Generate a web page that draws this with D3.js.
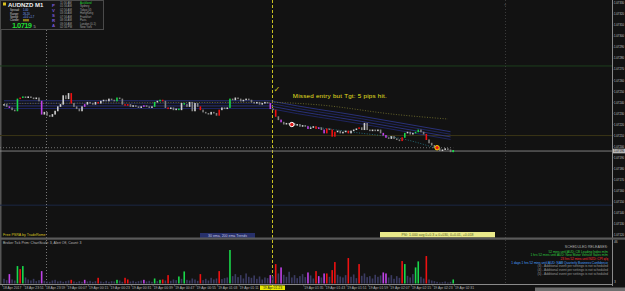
<!doctype html>
<html lang="en">
<head>
<meta charset="utf-8">
<script src="https://cdn.jsdelivr.net/npm/d3@7"></script>
<style>
body { margin: 0; background: #121212; }
svg { display: block; font-family: "Liberation Sans", Arial, sans-serif; }
</style>
</head>
<body>
<script>
// ---- data ----
var closes = [
  1.07238,1.07236,1.07235,1.07233,1.07232,1.07243,1.07244,1.07245,1.07244,1.07245,
  1.07244,1.07243,1.07244,1.07241,1.07229,1.07231,1.07228,1.07227,1.07229,1.07232,
  1.07236,1.07238,1.07246,1.07243,1.07248,1.07239,1.07236,1.07234,1.07232,1.07236,
  1.07238,1.07240,1.07239,1.07238,1.07240,1.07239,1.07241,1.07242,1.07241,1.07243,
  1.07242,1.07241,1.07244,1.07243,1.07238,1.07237,1.07238,1.07236,1.07237,1.07236,
  1.07235,1.07236,1.07237,1.07236,1.07235,1.07236,1.07240,1.07241,1.07242,1.07241,
  1.07235,1.07234,1.07235,1.07233,1.07234,1.07233,1.07239,1.07238,1.07236,1.07240,
  1.07232,1.07239,1.07236,1.07233,1.07231,1.07230,1.07229,1.07231,1.07230,1.07228,
  1.07233,1.07235,1.07234,1.07235,1.07243,1.07242,1.07244,1.07243,1.07241,1.07242,
  1.07243,1.07242,1.07240,1.07239,1.07240,1.07238,1.07239,1.07240,1.07239,1.07234,
  1.07233,1.07227,1.07224,1.07222,1.07220,1.07221,1.07220,1.07221,1.07219,1.07220,
  1.07218,1.07219,1.07218,1.07216,1.07217,1.07218,1.07216,1.07217,1.07215,1.07212,
  1.07216,1.07215,1.07209,1.07213,1.07214,1.07212,1.07213,1.07214,1.07212,1.07214,
  1.07215,1.07216,1.07217,1.07215,1.07221,1.07215,1.07214,1.07215,1.07214,1.07215,
  1.07212,1.07210,1.07208,1.07207,1.07209,1.07207,1.07206,1.07205,1.07208,1.07212,
  1.07213,1.07211,1.07212,1.07213,1.07215,1.07213,1.07211,1.07206,1.07203,1.07201,
  1.07199,1.07198,1.07196,1.07197,1.07198,1.07197,1.07195,1.07196
];
var volumes = [
  14,10,28,12,9,52,43,52,18,12,
  9,14,7,10,37,8,6,5,9,11,
  6,8,5,7,9,11,6,4,7,5,
  11,6,8,5,7,17,6,4,8,5,
  7,6,11,9,5,17,12,6,8,5,
  7,9,11,6,8,5,15,7,11,12,
  9,25,8,12,10,21,14,36,11,9,
  15,12,8,28,10,14,9,17,12,15,
  37,13,16,18,100,22,28,19,25,15,
  30,20,17,24,14,21,12,18,16,25,
  22,58,30,48,26,20,35,18,25,16,
  22,28,19,33,24,15,37,22,18,30,
  30,20,40,64,26,21,18,25,76,20,
  27,16,58,23,30,19,22,15,26,20,
  24,33,30,18,25,14,22,17,67,58,
  23,18,28,48,66,20,15,82,12,9,
  7,5,3,4,6,3,5,12
];
var greenBars  = [5,7,42,56,58,65,67,84,149,153,154,167];
var redBars    = [6,25,35,45,46,59,61,73,80,101,116,120,122,123,128,132,148,157];
var purpleBars = [2,14,30,52,99,103,113,117,119,141,142];

var priceTicks = [1.07330,1.07320,1.07310,1.07300,1.07290,1.07280,1.07270,1.07260,1.07250,1.07240,
                  1.07230,1.07220,1.07210,1.07200,1.07190,1.07180,1.07170,1.07160,1.07150,1.07140,1.07130,1.07120];
var timeLabels = ["18 Apr 2017","18 Apr 23:51","18 Apr 23:59","19 Apr 00:07","19 Apr 00:15","19 Apr 00:23",
                  "19 Apr 00:31","19 Apr 00:39","19 Apr 00:47","19 Apr 00:55","19 Apr 01:03","19 Apr 01:11",
                  "19 Apr 01:19","19 Apr 01:27","19 Apr 01:35","19 Apr 01:43","19 Apr 01:51","19 Apr 01:59",
                  "19 Apr 02:07","19 Apr 02:15","19 Apr 02:23","19 Apr 02:31"];
var signalBar = 100, signalLabel = "19 Apr 01:23";
var currentPrice = 1.07196;
var levelPrices = [1.07273, 1.07210, 1.07147];

// indicator lines (bar index, price)
var bandIdx = [0, 50, 99, 101, 133, 166];
var bandPrice = [1.07238, 1.07238, 1.07238, 1.07237, 1.07224, 1.07210];
var bandOffsets = [-0.000035, -0.000012, 0.000012, 0.000035];
var oliveIdx = [0, 99, 116, 146, 165];
var olivePrice = [1.07239, 1.07240, 1.07238, 1.07229, 1.07225];
var tealIdx = [108, 130, 150, 160];
var tealPrice = [1.07220, 1.07213, 1.07206, 1.07199];
var markIdx = [107, 161];
var markPrice = [1.07220, 1.07199];

var sessionTimes = ["11:56 AM","01:56 AM","02:56 AM","03:56 AM","07:56 AM","08:56 AM","09:56 AM","02:56 PM"];
var sessionNames = ["Auckland","Sydney","Tokyo (4)","HongKong","Frankfurt","Paris","London (0-1)","New York"];
var releases = [
  ["52 mins until AUD: CB Leading Index m/m", "#2ecc40"],
  ["1 hrs 52 mins until AUD: New Motor Vehicle Sales m/m", "#2ecc40"],
  ["23 hrs 52 mins until NZD: CPI q/q", "#ff3030"],
  ["1 days 1 hrs 52 mins until AUD: NAB Quarterly Business Confidence", "#4aa0ff"],
  ["(3) - Additional event per settings is not scheduled", "#9a9a9a"],
  ["(4) - Additional event per settings is not scheduled", "#9a9a9a"],
  ["(5) - Additional event per settings is not scheduled", "#9a9a9a"]
];

// ---- layout ----
var W = 625, H = 291, plotR = 612;
var svg = d3.select("body").append("svg").attr("width", W).attr("height", H);
svg.append("rect").attr("width", W).attr("height", H).attr("fill", "#121212");

var x = d3.scaleLinear().domain([0, 168]).range([4, 4 + 168 * 2.69]);
var y = d3.scaleLinear().domain([1.07120, 1.07330]).range([235, 3]);
var yv = d3.scaleLinear().domain([0, 100]).range([283.5, 250]);

function colorOf(i) {
  if (greenBars.indexOf(i) >= 0) return "#19d84a";
  if (redBars.indexOf(i) >= 0) return "#ee1111";
  if (purpleBars.indexOf(i) >= 0) return "#c042e8";
  return null;
}

// left border
svg.append("rect").attr("x", 0).attr("y", 0).attr("width", 1.5).attr("height", 284).attr("fill", "#555");

// horizontal levels
var levelColors = ["#1d3f1d", "#3a3516", "#1b2744"];
svg.selectAll(".lvl").data(levelPrices).enter().append("line")
  .attr("x1", 0).attr("x2", plotR)
  .attr("y1", function(d) { return y(d); }).attr("y2", function(d) { return y(d); })
  .attr("stroke", function(d, i) { return levelColors[i]; }).attr("stroke-width", 1);

// vertical dotted lines
svg.append("line").attr("x1", 46.5).attr("x2", 46.5).attr("y1", 30).attr("y2", 284)
  .attr("stroke", "#777").attr("stroke-dasharray", "1,2");
svg.append("line").attr("x1", 505.5).attr("x2", 505.5).attr("y1", 0).attr("y2", 284)
  .attr("stroke", "#3a3a3a").attr("stroke-dasharray", "1,2");
svg.append("line").attr("x1", x(signalBar) - 0.5).attr("x2", x(signalBar) - 0.5).attr("y1", 0).attr("y2", 286)
  .attr("stroke", "#c8c020").attr("stroke-dasharray", "3,2");

// price dotted + current price line
svg.append("line").attr("x1", 0).attr("x2", x(167))
  .attr("y1", y(1.07199)).attr("y2", y(1.07199))
  .attr("stroke", "#8a8a8a").attr("stroke-dasharray", "1,2").attr("stroke-width", 0.8);
svg.append("line").attr("x1", 0).attr("x2", plotR)
  .attr("y1", y(currentPrice)).attr("y2", y(currentPrice))
  .attr("stroke", "#9a9a9a").attr("stroke-width", 0.8);

// MA band
var bandLine = d3.line().curve(d3.curveMonotoneX)
  .x(function(d) { return x(d[0]); }).y(function(d) { return y(d[1]); });
bandOffsets.forEach(function(off, k) {
  var pts = bandIdx.map(function(b, j) { return [b, bandPrice[j] + off]; });
  svg.append("path").attr("d", bandLine(pts)).attr("fill", "none")
    .attr("stroke", k % 2 ? "#2e3892" : "#222a72").attr("stroke-width", 0.8);
});
svg.append("path").attr("d", bandLine(oliveIdx.map(function(b, j) { return [b, olivePrice[j]]; })))
  .attr("fill", "none").attr("stroke", "#7c7a30").attr("stroke-width", 0.8).attr("stroke-dasharray", "1,1.6");
svg.append("path").attr("d", bandLine(tealIdx.map(function(b, j) { return [b, tealPrice[j]]; })))
  .attr("fill", "none").attr("stroke", "#267e8c").attr("stroke-width", 0.8).attr("stroke-dasharray", "1,1.6");

// candles
var candles = closes.map(function(c, i) { return { i: i, o: i ? closes[i - 1] : c, c: c }; });
svg.selectAll(".cdl").data(candles).enter().append("rect")
  .attr("x", function(d) { return x(d.i) - 0.8; })
  .attr("width", 1.6)
  .attr("y", function(d) { return y(Math.max(d.o, d.c)) - 0.5; })
  .attr("height", function(d) { return Math.max(1, Math.abs(y(d.o) - y(d.c))) + 0.5; })
  .attr("fill", function(d) {
    return colorOf(d.i) || (d.c >= d.o ? "#d0d0d0" : "#808080");
  });

// signal markers
markIdx.forEach(function(b, j) {
  svg.append("circle").attr("cx", x(b)).attr("cy", y(markPrice[j])).attr("r", 2.2)
    .attr("fill", "#e01818").attr("stroke", j ? "#ffd800" : "#ffffff").attr("stroke-width", 1);
});
svg.append("rect").attr("x", x(167) - 0.8).attr("y", y(currentPrice) - 1).attr("width", 1.6).attr("height", 2)
  .attr("fill", "#19d84a");

// annotation
svg.append("text").attr("x", x(signalBar) + 0.5).attr("y", y(1.07249))
  .attr("fill", "#d8d020").attr("font-size", 8).attr("font-family", "DejaVu Sans").text("\u2713");
svg.append("text").attr("x", x(107) + 1).attr("y", y(1.07244))
  .attr("fill", "#e8e020").attr("font-size", 6.2).attr("textLength", 94)
  .text("Missed entry but Tgt: 5 pips hit.");

// info panel
var info = svg.append("g");
info.append("rect").attr("x", 0.5).attr("y", 0.5).attr("width", 103).attr("height", 29)
  .attr("fill", "#161616").attr("stroke", "#4a4a4a");
info.append("rect").attr("x", 3).attr("y", 2.5).attr("width", 3).attr("height", 3).attr("fill", "#d8c020");
info.append("text").attr("x", 8).attr("y", 7.3).attr("fill", "#f0f0f0").attr("font-size", 6)
  .attr("font-weight", "bold").text("AUDNZD  M1");
var infoRows = [["Spread", "1.00"], ["Range", "26.20"], ["Speed", "+0.0 +1.7"], ["Candle", "\u25AE\u25AE\u25AE"]];
infoRows.forEach(function(r, k) {
  info.append("text").attr("x", 10).attr("y", 11.3 + k * 3.2).attr("fill", "#cfcfcf").attr("font-size", 2.7).text(r[0] + ":");
  info.append("text").attr("x", 23).attr("y", 11.3 + k * 3.2).attr("fill", k == 3 ? "#d8c020" : "#7fa8ff").attr("font-size", 2.7).text(r[1]);
});
info.append("text").attr("x", 12).attr("y", 27.5).attr("fill", "#22dd33").attr("font-size", 7.5)
  .attr("font-weight", "bold").attr("textLength", 20).text("1.0719");
info.append("text").attr("x", 33.5).attr("y", 27.5).attr("fill", "#bbb").attr("font-size", 4).text("5");
["P", "V", "S", "R", "A"].forEach(function(ch, k) {
  info.append("text").attr("x", 52).attr("y", 7 + k * 5).attr("fill", "#7c5ad8").attr("font-size", 4.3)
    .attr("font-weight", "bold").text(ch);
});
sessionTimes.forEach(function(t, k) {
  info.append("text").attr("x", 60).attr("y", 4 + k * 3.45).attr("fill", "#a0a0a0").attr("font-size", 2.8).text(t);
  info.append("text").attr("x", 80).attr("y", 4 + k * 3.45).attr("fill", k == 0 ? "#22dd33" : "#a0a0a0")
    .attr("font-size", 2.8).text(sessionNames[k]);
});
svg.append("text").attr("x", 504).attr("y", 6).attr("fill", "#666").attr("font-size", 4).text("\u00d7");

// bottom labels of main window
svg.append("text").attr("x", 3).attr("y", 235.5).attr("fill", "#d8c020").attr("font-size", 3.6).text("Free PSRA by TradeRome");
svg.append("rect").attr("x", 200).attr("y", 233).attr("width", 55).attr("height", 5).attr("fill", "#27306a");
svg.append("text").attr("x", 227.5).attr("y", 237).attr("text-anchor", "middle").attr("fill", "#c8c8e0")
  .attr("font-size", 3.5).text("30 ema, 200 ema Trends");
svg.append("rect").attr("x", 380).attr("y", 232).attr("width", 115).attr("height", 5.5).attr("fill", "#e9e98a");
svg.append("text").attr("x", 437.5).attr("y", 236.3).attr("text-anchor", "middle").attr("fill", "#556020")
  .attr("font-size", 3.5).text("PSI: 1.000 avg 0+0.3 = 0+030, 0+0.01, +0.018");

// right price axis
svg.append("line").attr("x1", plotR + 0.5).attr("x2", plotR + 0.5).attr("y1", 0).attr("y2", 286).attr("stroke", "#8a8a8a");
svg.selectAll(".ptick").data(priceTicks).enter().append("text")
  .attr("x", plotR + 2).attr("y", function(d) { return y(d) + 1.2; })
  .attr("fill", "#c8c8c8").attr("font-size", 3.3).attr("textLength", 10).attr("lengthAdjust", "spacingAndGlyphs")
  .text(function(d) { return d.toFixed(5); });
svg.selectAll(".ptm").data(priceTicks).enter().append("line")
  .attr("x1", plotR).attr("x2", plotR + 1.5).attr("y1", function(d) { return y(d); }).attr("y2", function(d) { return y(d); })
  .attr("stroke", "#8a8a8a").attr("stroke-width", 0.5);
svg.append("rect").attr("x", plotR + 1).attr("y", y(currentPrice) - 2.3).attr("width", 12).attr("height", 4.6).attr("fill", "#b8b8b8");
svg.append("text").attr("x", plotR + 2).attr("y", y(currentPrice) + 1.2).attr("fill", "#111").attr("font-size", 3.3)
  .attr("textLength", 10).attr("lengthAdjust", "spacingAndGlyphs").text(currentPrice.toFixed(5));

// separator between windows
svg.append("rect").attr("x", 0).attr("y", 237.5).attr("width", W).attr("height", 2.2).attr("fill", "#5a5a5a");
svg.append("text").attr("x", 3).attr("y", 243.5).attr("fill", "#bbb").attr("font-size", 3.5)
  .text("Broker Tick Prim:   ChartScale: 3,   Alert Off,   Count: 3");
svg.append("text").attr("x", plotR + 2).attr("y", 243).attr("fill", "#bbb").attr("font-size", 3.3).text("46");
svg.append("text").attr("x", plotR + 2).attr("y", 283).attr("fill", "#bbb").attr("font-size", 3.3).text("3");

// scheduled releases
svg.append("text").attr("x", 608).attr("y", 247.8).attr("text-anchor", "end").attr("fill", "#b0b0b0")
  .attr("font-size", 3.6).text("SCHEDULED RELEASES:");
svg.selectAll(".rel").data(releases).enter().append("text")
  .attr("x", 608).attr("y", function(d, k) { return 252.5 + k * 3.7; }).attr("text-anchor", "end")
  .attr("fill", function(d) { return d[1]; }).attr("font-size", 3.2).text(function(d) { return d[0]; });

// volume bars
svg.selectAll(".vol").data(volumes).enter().append("rect")
  .attr("x", function(d, i) { return x(i) - 0.8; })
  .attr("width", 1.6)
  .attr("y", function(d) { return yv(d); })
  .attr("height", function(d) { return yv(0) - yv(d); })
  .attr("fill", function(d, i) { return colorOf(i) || "#3b3b62"; });

// time axis
svg.append("line").attr("x1", 0).attr("x2", plotR).attr("y1", 284.5).attr("y2", 284.5).attr("stroke", "#8a8a8a");
svg.selectAll(".tl").data(timeLabels).enter().append("text")
  .attr("x", function(d, k) { return x(k * 8) - 1; }).attr("y", 289)
  .attr("fill", "#b8b8b8").attr("font-size", 3.4)
  .style("display", function(d, k) { return Math.abs(k * 8 - signalBar) < 6 ? "none" : null; })
  .text(function(d) { return d; });
svg.selectAll(".tt").data(timeLabels).enter().append("line")
  .attr("x1", function(d, k) { return x(k * 8) - 1.5; }).attr("x2", function(d, k) { return x(k * 8) - 1.5; })
  .attr("y1", 284.5).attr("y2", 286.5).attr("stroke", "#8a8a8a").attr("stroke-width", 0.5);
svg.append("rect").attr("x", x(signalBar) - 13).attr("y", 285.5).attr("width", 25).attr("height", 4.5).attr("fill", "#e8e800");
svg.append("text").attr("x", x(signalBar) - 0.5).attr("y", 289).attr("text-anchor", "middle").attr("fill", "#222")
  .attr("font-size", 3.4).text(signalLabel);
svg.append("rect").attr("x", 535).attr("y", 287.5).attr("width", 90).attr("height", 4).attr("fill", "#6e6e6e");
</script>
</body>
</html>
